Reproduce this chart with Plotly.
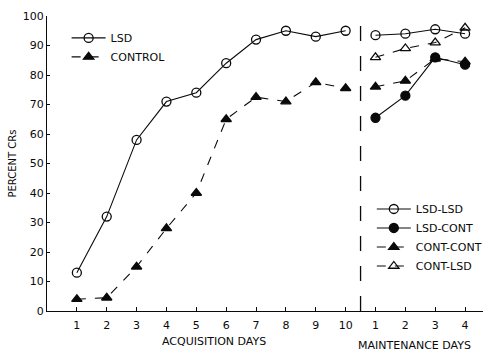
import plotly.graph_objects as go

# Acquisition phase (days 1-10)
acq_days = [1, 2, 3, 4, 5, 6, 7, 8, 9, 10]
lsd_acq = [13, 32, 58, 71, 74, 84, 92, 95, 93, 95]
control_acq = [4, 4.5, 15, 28, 40, 65, 72.5, 71, 77.5, 75.5]

# Maintenance phase (days 1-4), plotted after the acquisition block
maint_days = [1, 2, 3, 4]
lsd_lsd = [93.5, 94, 95.5, 94]
lsd_cont = [65.5, 73, 86, 83.5]
cont_cont = [76, 78, 85.5, 84.5]
cont_lsd = [86, 89, 91, 96]

acq_tick_text = [str(d) for d in acq_days]
maint_tick_text = [str(d) for d in maint_days]

n_acq = len(acq_days)
maint_x = [n_acq + d for d in maint_days]
divider_x = n_acq + 0.5

FONT = "DejaVu Sans"
INK = "#0a0a0a"

fig = go.Figure()

def add_series(x, y, name, symbol, dash, legend):
    fig.add_trace(go.Scatter(
        x=x, y=y, name=name, mode="lines+markers",
        line=dict(color=INK, width=1.1, dash=dash),
        marker=dict(symbol=symbol, size=9, color=INK,
                    line=dict(color=INK, width=1.3)),
        legend=legend,
    ))

add_series(acq_days, lsd_acq, "LSD", "circle-open", "solid", "legend")
add_series(acq_days, control_acq, "CONTROL", "triangle-up", "dash", "legend")

add_series(maint_x, lsd_lsd, "LSD-LSD", "circle-open", "solid", "legend2")
add_series(maint_x, lsd_cont, "LSD-CONT", "circle", "solid", "legend2")
add_series(maint_x, cont_cont, "CONT-CONT", "triangle-up", "dash", "legend2")
add_series(maint_x, cont_lsd, "CONT-LSD", "triangle-up-open", "dash", "legend2")

# Dashed separator between the two phases
fig.add_shape(type="line", xref="x", yref="y",
              x0=divider_x, x1=divider_x, y0=0, y1=97,
              line=dict(color=INK, width=1.3, dash="longdash"))

fig.add_annotation(text="ACQUISITION DAYS", xref="x", yref="paper",
                   x=(acq_days[0] + acq_days[-1]) / 2 + 0.1, y=0,
                   yanchor="middle", yshift=-30, showarrow=False,
                   font=dict(family=FONT, size=11, color=INK))
fig.add_annotation(text="MAINTENANCE DAYS", xref="x", yref="paper",
                   x=(maint_x[0] + maint_x[-1]) / 2 - 0.2, y=0,
                   yanchor="middle", yshift=-34, showarrow=False,
                   font=dict(family=FONT, size=11, color=INK))

fig.update_layout(
    width=483, height=351,
    margin=dict(l=47, r=0, t=16, b=40, autoexpand=False),
    paper_bgcolor="white", plot_bgcolor="white",
    font=dict(family=FONT, size=11, color=INK),
    xaxis=dict(
        range=[0, 14.6],
        tickvals=acq_days + maint_x,
        ticktext=acq_tick_text + maint_tick_text,
        ticks="inside", ticklen=4, tickcolor=INK,
        ticklabelstandoff=4,
        showline=True, linecolor=INK, linewidth=1.2,
        showgrid=False, zeroline=False,
        tickfont=dict(family=FONT, size=11, color=INK),
    ),
    yaxis=dict(
        range=[0, 100],
        tickvals=list(range(0, 101, 10)),
        ticks="inside", ticklen=3, tickcolor=INK,
        showline=True, linecolor=INK, linewidth=1.2,
        showgrid=False, zeroline=False,
        tickfont=dict(family=FONT, size=11, color=INK),
        title=dict(text="PERCENT CRs", standoff=4,
                   font=dict(family=FONT, size=10, color=INK)),
    ),
    legend=dict(x=0.045, y=0.975, xanchor="left", yanchor="top",
                bgcolor="rgba(0,0,0,0)", tracegroupgap=0, itemwidth=34,
                font=dict(family=FONT, size=11, color=INK)),
    legend2=dict(x=0.745, y=0.395, xanchor="left", yanchor="top",
                 bgcolor="rgba(0,0,0,0)", tracegroupgap=0, itemwidth=34,
                 font=dict(family=FONT, size=11, color=INK)),
)

fig.write_html("out.html")
